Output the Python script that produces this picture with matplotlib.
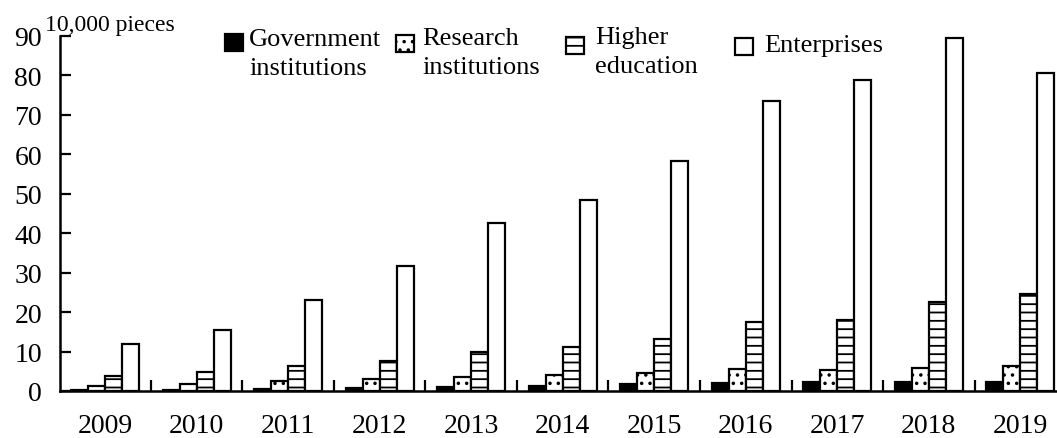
import matplotlib.pyplot as plt
from matplotlib.patches import Rectangle
import numpy as np

years = ["2009", "2010", "2011", "2012", "2013", "2014", "2015", "2016", "2017", "2018", "2019"]
government = [0.2, 0.3, 0.5, 0.7, 1.0, 1.2, 1.7, 2.0, 2.3, 2.2, 2.2]
research = [1.3, 1.7, 2.5, 3.0, 3.6, 4.0, 4.5, 5.5, 5.3, 5.8, 6.3]
higher_edu = [3.8, 4.8, 6.3, 7.7, 10.0, 11.2, 13.3, 17.4, 18.0, 22.6, 24.5]
enterprises = [11.8, 15.4, 23.1, 31.6, 42.6, 48.4, 58.2, 73.5, 78.8, 89.5, 80.7]

plt.rcParams["font.family"] = ["Liberation Serif", "DejaVu Serif"]
plt.rcParams["hatch.linewidth"] = 1.3

W, H = 1057, 439
fig = plt.figure(figsize=(W / 100, H / 100), dpi=100)
ax = fig.add_axes([60 / W, 47 / H, 997 / W, 355 / H])

x = np.arange(len(years))
w = 0.186
series = [
    (government, "Government\ninstitutions", "black", None),
    (research, "Research\ninstitutions", "white", ".."),
    (higher_edu, "Higher\neducation", "white", "--"),
    (enterprises, "Enterprises", "white", None),
]
for k, (vals, lab, fc, hatch) in enumerate(series):
    ax.bar(x + (k - 1.5) * w, vals, w, color=fc, edgecolor="black",
           linewidth=1.6, hatch=hatch, label=lab)

ax.set_xlim(-0.492, 10.40)
ax.set_ylim(0, 90)
ax.set_yticks(np.arange(0, 91, 10))
ax.set_xticks(x)
ax.set_xticklabels(years)
ax.set_xticks(x[:-1] + 0.5, minor=True)
ax.tick_params(axis="x", which="major", length=0, pad=15.5, labelsize=20)
ax.tick_params(axis="x", which="minor", direction="in", length=8, width=1.6)
ax.tick_params(axis="y", direction="in", length=8, width=1.6, pad=13, labelsize=20)

for s in ["top", "right"]:
    ax.spines[s].set_visible(False)
for s in ["left", "bottom"]:
    ax.spines[s].set_linewidth(1.8)

fig.text(45 / W, 1 - 25 / H, "10,000 pieces", fontsize=17, va="center")

# legend drawn by hand: (handle left, handle top, text left, text top) in pixels
legend_pos = [(225, 35, 249, 29), (396, 36, 422, 28), (566, 38, 595, 27), (735, 39, 764, 35)]
for (vals, lab, fc, hatch), (hx, hy, tx, ty) in zip(series, legend_pos):
    fig.add_artist(Rectangle((hx / W, 1 - (hy + 17) / H), 18 / W, 17 / H,
                             transform=fig.transFigure, facecolor=fc,
                             edgecolor="black", linewidth=1.6, hatch=hatch))
    fig.text(tx / W, 1 - ty / H, lab, fontsize=19, va="top", ha="left",
             linespacing=1.4)

fig.savefig("out.png", dpi=100)
